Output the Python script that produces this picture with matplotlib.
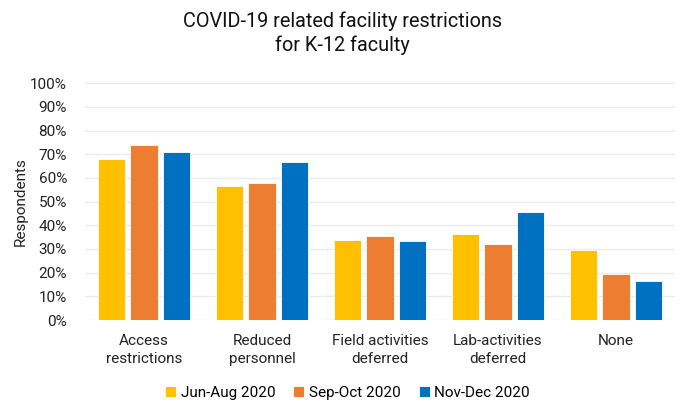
import matplotlib
matplotlib.use("Agg")
import matplotlib.pyplot as plt
import numpy as np
from matplotlib.ticker import PercentFormatter

plt.rcParams['font.family'] = ['Roboto', 'DejaVu Sans']

categories = ["Access\nrestrictions", "Reduced\npersonnel", "Field activities\ndeferred",
              "Lab-activities\ndeferred", "None"]
series_names = ["Jun-Aug 2020", "Sep-Oct 2020", "Nov-Dec 2020"]
jun_aug = [68.0, 56.7, 33.9, 36.3, 29.4]
sep_oct = [74.1, 57.8, 35.3, 32.2, 19.3]
nov_dec = [70.8, 66.6, 33.2, 45.8, 16.6]
colors = ["#FFC000", "#ED7D31", "#0070C0"]

fig = plt.figure(figsize=(6.81, 4.03), dpi=100)
ax = fig.add_axes([85/681, 1 - 320/403, 590/681, (320 - 83.3)/403])

x = np.arange(len(categories))
slot = 0.274
width = 0.23
for i, (vals, name, c) in enumerate(zip([jun_aug, sep_oct, nov_dec], series_names, colors)):
    ax.bar(x + (i - 1) * slot, vals, width=width, color=c, label=name,
           edgecolor='white', linewidth=0.6, zorder=3)

ax.set_xlim(-0.5, len(categories) - 0.5)
ax.set_ylim(0, 100)
ax.set_yticks(np.arange(0, 101, 10))
ax.yaxis.set_major_formatter(PercentFormatter(decimals=0))
ax.grid(axis='y', color='#EBEBEB', linewidth=1, zorder=0)
for s in ax.spines.values():
    s.set_visible(False)
ax.tick_params(axis='both', length=0, labelsize=11, colors='#222222')
ax.tick_params(axis='x', pad=10)
ax.tick_params(axis='y', pad=13)
ax.set_xticks(x)
ax.set_xticklabels(categories, linespacing=1.36)
ax.set_ylabel("Respondents", fontsize=11, color='#222222', labelpad=2)

fig.text(0.5 * (181.7 + 502.7) / 681, 1 - 33/403,
         "COVID-19 related facility restrictions\nfor K-12 faculty",
         fontsize=14.3, ha='center', va='center', color='#111111', linespacing=1.3)

fig.legend(*ax.get_legend_handles_labels(), loc='center',
           bbox_to_anchor=(347.5/681, 1 - 392.7/403), ncol=3, frameon=False,
           fontsize=11, handlelength=0.7, handleheight=0.7, handletextpad=0.3,
           columnspacing=1.2)

fig.savefig("out.png", dpi=100)
